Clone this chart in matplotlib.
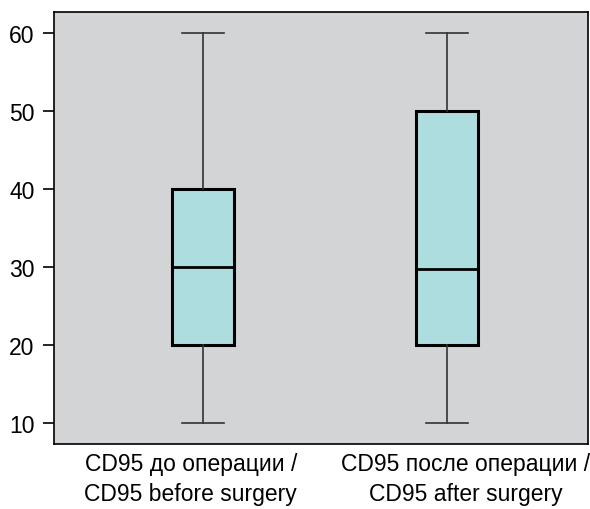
import matplotlib
matplotlib.use("Agg")
import matplotlib.pyplot as plt

labels = ["CD95 до операции /\nCD95 before surgery", "CD95 после операции /\nCD95 after surgery"]
whislo = [10, 10]
q1 = [20, 20]
med = [30, 29.8]
q3 = [40, 50]
whishi = [60, 60]

plt.rcParams['font.family'] = ['Liberation Sans', 'DejaVu Sans']

fig = plt.figure(figsize=(5.9, 5.1), dpi=100)
ax = fig.add_axes([0.0915, 0.1275, 0.905, 0.847])
ax.set_facecolor("#d3d4d6")

stats = []
for i in range(2):
    stats.append(dict(whislo=whislo[i], q1=q1[i], med=med[i],
                      q3=q3[i], whishi=whishi[i], fliers=[]))

ax.bxp(stats, positions=[1, 2], widths=0.254, patch_artist=True, showfliers=False,
       boxprops=dict(facecolor="#aedde0", edgecolor="black", linewidth=2.2),
       medianprops=dict(color="black", linewidth=2),
       whiskerprops=dict(color="#333333", linewidth=1.2),
       capprops=dict(color="#333333", linewidth=1.2), capwidths=0.17)

ax.set_xlim(0.389, 2.578)
ax.set_ylim(7.3, 62.7)
ax.set_yticks([10, 20, 30, 40, 50, 60])
# labels sit a little off the box centres in the original
ax.set_xticks([0.95, 2.077], labels)
ax.tick_params(axis='y', labelsize=16.5, length=8, width=1.2, pad=6)
ax.tick_params(axis='x', labelsize=16.5, length=0, pad=6)
for t in ax.get_xticklabels():
    t.set_linespacing(1.35)
for s in ax.spines.values():
    s.set_linewidth(1.2)

plt.savefig("out.png", dpi=100)
